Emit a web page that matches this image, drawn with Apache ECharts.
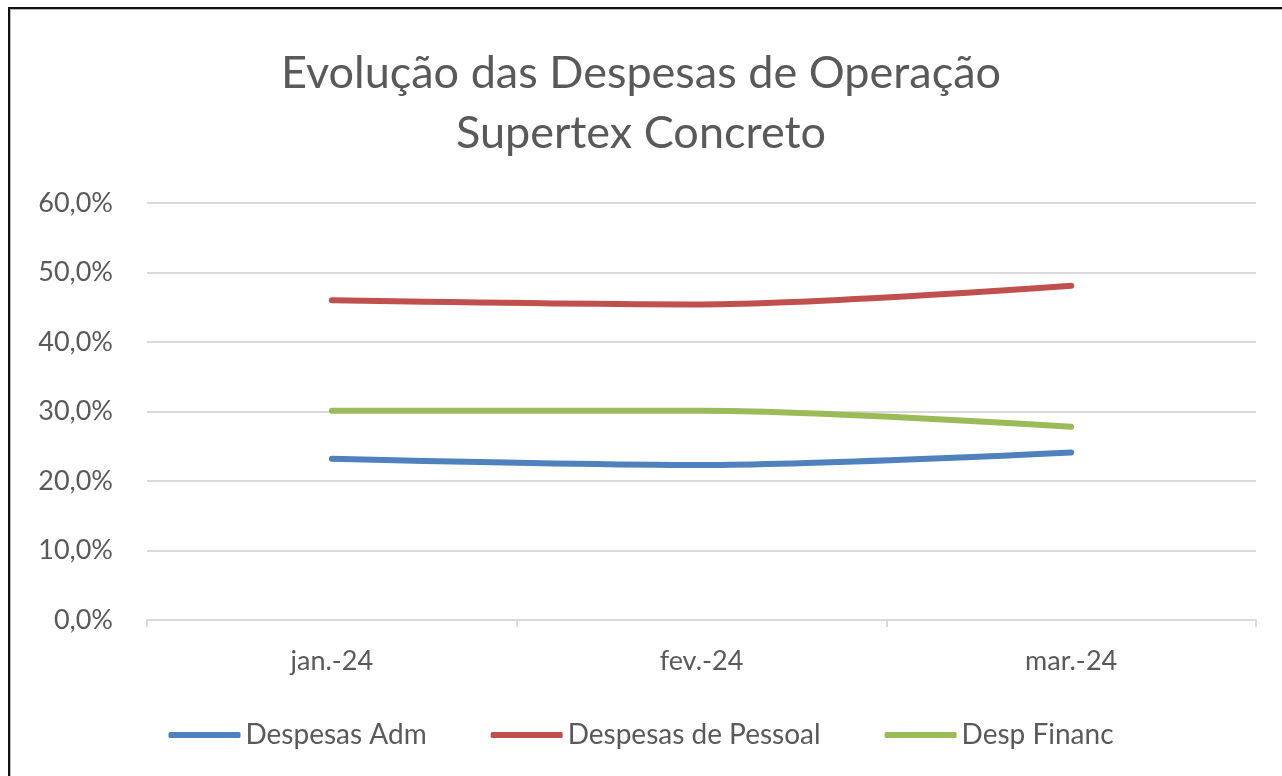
<!DOCTYPE html>
<html>
<head>
<meta charset="utf-8">
<script src="https://cdn.jsdelivr.net/npm/echarts@6/dist/echarts.min.js"></script>
<style>
  html, body { margin: 0; padding: 0; background: #fff; }
  #frame { position: absolute; left: 8px; top: 7px; width: 1290px; height: 790px;
           border-left: 2px solid #111; border-top: 2px solid #111; box-shadow: inset 1px 1px 0 #bbb; }
  #myChart { position: absolute; left: 0; top: 0; width: 1282px; height: 776px; }
</style>
</head>
<body>
<div id="frame"></div>
<div id="myChart"></div>
<script>
var titulo = 'Evolução das Despesas de Operação\nSupertex Concreto';
var meses = ['jan.-24', 'fev.-24', 'mar.-24'];
var despesasAdm = [23.2, 22.3, 24.1];
var despesasPessoal = [46.0, 45.4, 48.1];
var despFinanc = [30.1, 30.1, 27.8];
var nomes = ['Despesas Adm', 'Despesas de Pessoal', 'Desp Financ'];
var cores = ['#4F81BD', '#C0504D', '#9BBB59'];

var fonte = 'Lato, "Open Sans", sans-serif';

function serie(nome, dados, cor) {
  return {
    name: nome,
    type: 'line',
    smooth: 0.3,
    symbol: 'none',
    data: dados,
    lineStyle: { width: 6, color: cor, cap: 'round' },
    itemStyle: { color: cor }
  };
}

var option = {
  animation: false,
  title: {
    text: titulo,
    left: 'center',
    top: 38,
    textStyle: { fontFamily: fonte, fontSize: 45, fontWeight: 'normal', color: '#595959', lineHeight: 60 }
  },
  legend: {
    bottom: 22,
    left: 'center',
    itemWidth: 72,
    itemHeight: 6,
    itemGap: 64,
    icon: 'roundRect',
    data: nomes,
    textStyle: { fontFamily: fonte, fontSize: 28, color: '#595959' }
  },
  grid: { left: 147, right: 26, top: 203, bottom: 156 },
  xAxis: {
    type: 'category',
    data: meses,
    axisLine: { lineStyle: { color: '#D9D9D9', width: 2 } },
    axisTick: { show: true, length: 7, lineStyle: { color: '#D9D9D9', width: 2 } },
    axisLabel: { fontFamily: fonte, fontSize: 27, color: '#595959', margin: 28 }
  },
  yAxis: {
    type: 'value',
    min: 0,
    max: 60,
    interval: 10,
    axisLine: { show: false },
    axisTick: { show: false },
    splitLine: { lineStyle: { color: '#D9D9D9', width: 2 } },
    axisLabel: {
      fontFamily: fonte, fontSize: 27, color: '#595959', margin: 34,
      formatter: function (v) { return v.toFixed(1).replace('.', ',') + '%'; }
    }
  },
  series: [
    serie(nomes[0], despesasAdm, cores[0]),
    serie(nomes[1], despesasPessoal, cores[1]),
    serie(nomes[2], despFinanc, cores[2])
  ]
};

var myChart = echarts.init(document.getElementById('myChart'));
myChart.setOption(option);
</script>
</body>
</html>
